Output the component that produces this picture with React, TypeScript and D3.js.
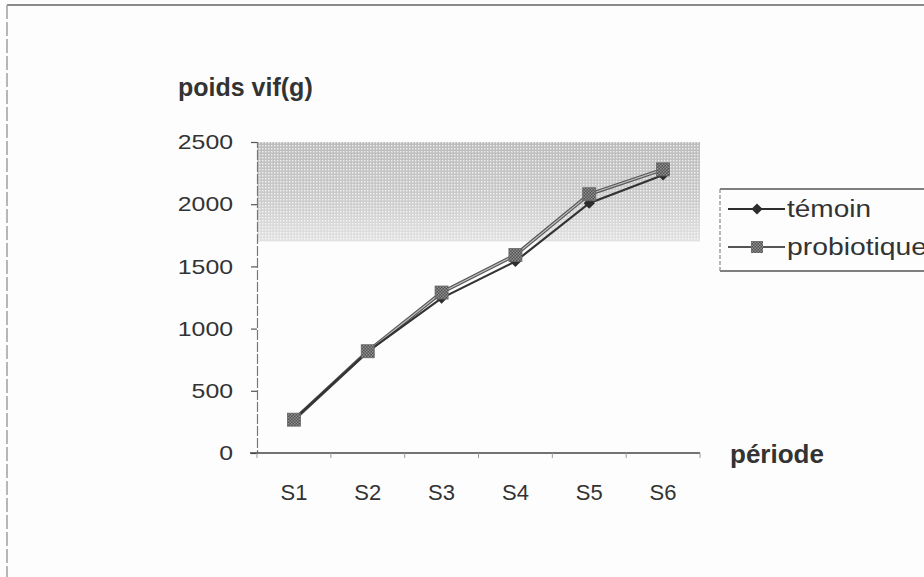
import React, { useEffect, useRef } from "react";
import * as d3 from "d3";

const periods = ["S1", "S2", "S3", "S4", "S5", "S6"];
const temoin = [268, 815, 1245, 1540, 2008, 2235];
const probiotique = [268, 818, 1290, 1592, 2080, 2280];
const yTicks = [0, 500, 1000, 1500, 2000, 2500];
const seriesNames = ["témoin", "probiotique"];

const FONT = "'Liberation Sans', Arial, sans-serif";

export default function App() {
  const ref = useRef<SVGSVGElement>(null);

  useEffect(() => {
    const svg = d3.select(ref.current);
    svg.selectAll("*").remove();

    const x = d3.scaleBand().domain(periods).range([257, 700]).padding(0);
    const y = d3.scaleLinear().domain([0, 2500]).range([453, 142]);

    const defs = svg.append("defs");
    const grad = defs.append("linearGradient")
      .attr("id", "shade").attr("x1", 0).attr("y1", 0).attr("x2", 0).attr("y2", 1);
    grad.append("stop").attr("offset", "0%").attr("stop-color", "#bcbcbc");
    grad.append("stop").attr("offset", "55%").attr("stop-color", "#cbcbcb");
    grad.append("stop").attr("offset", "100%").attr("stop-color", "#e2e2e2");

    const dots = defs.append("pattern")
      .attr("id", "dots").attr("width", 3).attr("height", 3)
      .attr("patternUnits", "userSpaceOnUse");
    dots.append("rect").attr("width", 3).attr("height", 3).attr("fill", "none");
    dots.append("rect").attr("x", 1).attr("y", 1).attr("width", 1.4).attr("height", 1.4)
      .attr("fill", "#ffffff").attr("opacity", 0.75);

    const check = defs.append("pattern")
      .attr("id", "check").attr("width", 3).attr("height", 3)
      .attr("patternUnits", "userSpaceOnUse");
    check.append("rect").attr("width", 3).attr("height", 3).attr("fill", "#505050");
    check.append("rect").attr("width", 1.5).attr("height", 1.5).attr("fill", "#929292");
    check.append("rect").attr("x", 1.5).attr("y", 1.5).attr("width", 1.5).attr("height", 1.5).attr("fill", "#929292");

    // outer frame
    svg.append("line").attr("x1", 7).attr("x2", 924).attr("y1", 5).attr("y2", 5)
      .attr("stroke", "#8a8a8a").attr("stroke-width", 2);
    svg.append("line").attr("x1", 7).attr("x2", 7).attr("y1", 5).attr("y2", 577)
      .attr("stroke", "#a0a0a0").attr("stroke-width", 1.5).attr("stroke-dasharray", "14 3");

    // shaded band at top of the plot
    const bandH = y(1700) - y(2500);
    svg.append("rect")
      .attr("x", x.range()[0]).attr("y", y(2500))
      .attr("width", x.range()[1] - x.range()[0]).attr("height", bandH)
      .attr("fill", "url(#shade)");
    svg.append("rect")
      .attr("x", x.range()[0]).attr("y", y(2500))
      .attr("width", x.range()[1] - x.range()[0]).attr("height", bandH)
      .attr("fill", "url(#dots)");

    // y axis
    const yAxis = svg.append("g").attr("transform", "translate(" + x.range()[0] + ",0)")
      .call(d3.axisLeft(y).tickValues(yTicks).tickFormat(d3.format("d")).tickSize(6).tickPadding(18));
    yAxis.select(".domain").attr("stroke", "#777").attr("stroke-width", 1.2).attr("stroke-dasharray", "10 2");
    yAxis.selectAll(".tick line").attr("stroke", "#555").attr("stroke-width", 1.2);
    yAxis.selectAll("text")
      .attr("font-family", FONT).attr("font-size", 21).attr("fill", "#333")
      .attr("lengthAdjust", "spacingAndGlyphs")
      .attr("textLength", (d: any) => String(d).length * 13.8);

    // x axis
    const xAxis = svg.append("g").attr("transform", "translate(0," + y(0) + ")");
    xAxis.append("line").attr("x1", 250).attr("x2", x.range()[1]).attr("y1", 0).attr("y2", 0)
      .attr("stroke", "#444").attr("stroke-width", 1.5);
    const bounds = periods.map(p => (x(p) as number)).concat([x.range()[1]]);
    xAxis.selectAll(".xt").data(bounds).enter().append("line")
      .attr("x1", d => d).attr("x2", d => d).attr("y1", 0).attr("y2", 5)
      .attr("stroke", "#999").attr("stroke-width", 1);
    xAxis.selectAll(".xl").data(periods).enter().append("text")
      .attr("x", d => (x(d) as number) + x.bandwidth() / 2)
      .attr("y", 47).attr("text-anchor", "middle")
      .attr("font-family", FONT).attr("font-size", 22).attr("fill", "#333")
      .text(d => d);

    // axis titles
    svg.append("text").attr("x", 178).attr("y", 96)
      .attr("font-family", FONT).attr("font-size", 25).attr("font-weight", "bold")
      .attr("fill", "#333").text("poids vif(g)");
    svg.append("text").attr("x", 730).attr("y", 463)
      .attr("font-family", FONT).attr("font-size", 26).attr("font-weight", "bold")
      .attr("fill", "#333").text("période");

    const cx = (d: string) => (x(d) as number) + x.bandwidth() / 2;
    const line = d3.line<number>().x((d, i) => cx(periods[i])).y(d => y(d));

    // probiotique series
    svg.append("path").datum(probiotique).attr("d", line)
      .attr("fill", "none").attr("stroke", "#555").attr("stroke-width", 3.5);
    svg.append("path").datum(probiotique).attr("d", line)
      .attr("fill", "none").attr("stroke", "#bdbdbd").attr("stroke-width", 1.2);

    // témoin series
    svg.append("path").datum(temoin).attr("d", line)
      .attr("fill", "none").attr("stroke", "#333").attr("stroke-width", 2.2);

    const diamond = d3.symbol().type(d3.symbolDiamond2).size(80);
    svg.selectAll(".tm").data(temoin).enter().append("path")
      .attr("d", diamond)
      .attr("transform", (d, i) => "translate(" + cx(periods[i]) + "," + y(d) + ")")
      .attr("fill", "#2d2d2d");

    svg.selectAll(".pm").data(probiotique).enter().append("rect")
      .attr("x", (d, i) => cx(periods[i]) - 6.5).attr("y", d => y(d) - 6.5)
      .attr("width", 13).attr("height", 13)
      .attr("fill", "url(#check)").attr("stroke", "#666").attr("stroke-width", 0.8);

    // legend
    const lg = svg.append("g");
    lg.append("line").attr("x1", 720).attr("x2", 924).attr("y1", 189).attr("y2", 189)
      .attr("stroke", "#555").attr("stroke-width", 1.5);
    lg.append("line").attr("x1", 720).attr("x2", 924).attr("y1", 271).attr("y2", 271)
      .attr("stroke", "#555").attr("stroke-width", 1.5);
    lg.append("line").attr("x1", 720).attr("x2", 720).attr("y1", 189).attr("y2", 271)
      .attr("stroke", "#888").attr("stroke-width", 1.2).attr("stroke-dasharray", "4 2");

    const rows = [209, 247];
    const labelWidths = [84, 140];
    seriesNames.forEach((name, i) => {
      const ry = rows[i];
      if (i === 0) {
        lg.append("line").attr("x1", 728).attr("x2", 785).attr("y1", ry).attr("y2", ry)
          .attr("stroke", "#2d2d2d").attr("stroke-width", 2.2);
        lg.append("path").attr("d", diamond)
          .attr("transform", "translate(757," + ry + ")").attr("fill", "#2d2d2d");
      } else {
        lg.append("line").attr("x1", 728).attr("x2", 785).attr("y1", ry).attr("y2", ry)
          .attr("stroke", "#555").attr("stroke-width", 1.8);
        lg.append("rect").attr("x", 751).attr("y", ry - 6).attr("width", 12).attr("height", 12)
          .attr("fill", "url(#check)");
      }
      lg.append("text").attr("x", 787).attr("y", ry + 8)
        .attr("font-family", FONT).attr("font-size", 23).attr("fill", "#333")
        .attr("lengthAdjust", "spacingAndGlyphs").attr("textLength", labelWidths[i])
        .text(name);
    });
  }, []);

  return (
    <svg
      ref={ref}
      width={924}
      height={577}
      style={{ position: "absolute", left: 0, top: 0, background: "#fdfdfd" }}
    />
  );
}
